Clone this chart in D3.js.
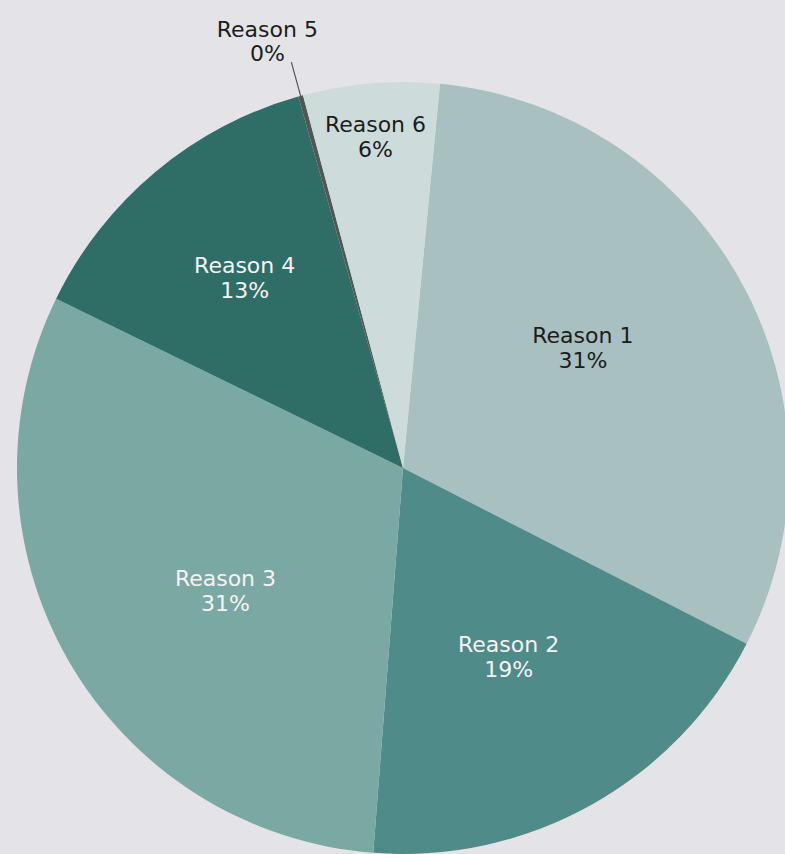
<!DOCTYPE html>
<meta charset="utf-8">
<script src="https://d3js.org/d3.v7.min.js"></script>
<html>
  <head>
    <style>
    body { margin: 0; background-color: #e4e3e7; }
    .lbl { font-family: "DejaVu Sans", sans-serif; font-size: 22px; }
    </style>
  </head>
  <body>
    <div id="my_dataviz"></div>
  </body>
</html>

<script>

// data (labels are the rounded shares)
var reasons = ["Reason 1", "Reason 2", "Reason 3", "Reason 4", "Reason 5", "Reason 6"];
var shares  = [31, 18.7, 31, 13.4, 0.2, 5.7];

// colours per slice and label text colour
var sliceColors = ["#a9c0c0", "#4f8b88", "#7aa8a3", "#2f6e67", "#555555", "#cddcdb"];
var textColors  = ["#1c1c1c", "#f4f4f4", "#f4f4f4", "#f4f4f4", "#1c1c1c", "#1c1c1c"];

var width = 785, height = 854;
var cx = 403, cy = 468, radius = 386;

var svg = d3.select("#my_dataviz")
  .append("svg")
    .attr("width", width)
    .attr("height", height)
  .append("g")
    .attr("transform", "translate(" + cx + "," + cy + ")");

var data = reasons.map(function(d, i) { return {name: d, value: shares[i], idx: i}; });

var start = 5.5 * Math.PI / 180;
var pie = d3.pie()
  .sort(null)
  .value(function(d) { return d.value; })
  .startAngle(start)
  .endAngle(start + 2 * Math.PI);

var arcs = pie(data);

var arc = d3.arc().innerRadius(0).outerRadius(radius);

// slices
svg.selectAll("path.slice")
  .data(arcs)
  .enter()
  .append("path")
    .attr("class", "slice")
    .attr("d", arc)
    .style("fill", function(d) { return sliceColors[d.data.idx]; });

// where a label sits depends on how wide the slice is
function labelRadius(d) {
  var span = (d.endAngle - d.startAngle) * 180 / Math.PI;
  if (span < 30) return radius * 0.86;
  if (span < 60) return radius * 0.64;
  return radius * 0.56;
}

// wide slices get their label nudged a little back towards the slice start
function labelArc(d) {
  var span = d.endAngle - d.startAngle;
  var shift = span > Math.PI / 2 ? -5 * Math.PI / 180 : 0;
  return {startAngle: d.startAngle + shift, endAngle: d.endAngle + shift};
}

function pct(v) { return Math.round(v) + "%"; }

var inside = arcs.filter(function(d) { return d.data.value >= 2; });
var outside = arcs.filter(function(d) { return d.data.value < 2; });

var lab = svg.selectAll("g.inlab")
  .data(inside)
  .enter()
  .append("g")
    .attr("class", "inlab")
    .attr("transform", function(d) {
      var r = labelRadius(d);
      var a = d3.arc().innerRadius(r).outerRadius(r);
      return "translate(" + a.centroid(labelArc(d)) + ")";
    });

lab.append("text")
  .attr("class", "lbl")
  .attr("text-anchor", "middle")
  .attr("y", -5)
  .style("fill", function(d) { return textColors[d.data.idx]; })
  .text(function(d) { return d.data.name; });

lab.append("text")
  .attr("class", "lbl")
  .attr("text-anchor", "middle")
  .attr("y", 20)
  .style("fill", function(d) { return textColors[d.data.idx]; })
  .text(function(d) { return pct(d.data.value); });

// tiny slice: leader line and label outside the pie
var edge = d3.arc().innerRadius(radius - 8).outerRadius(radius - 8);
var far  = d3.arc().innerRadius(radius + 35).outerRadius(radius + 35);

outside.forEach(function(d) {
  var p0 = edge.centroid(d), p1 = far.centroid(d);
  svg.append("line")
    .attr("x1", p0[0]).attr("y1", p0[1])
    .attr("x2", p1[0]).attr("y2", p1[1])
    .style("stroke", "#555")
    .style("stroke-width", 1.2);
  svg.append("text")
    .attr("class", "lbl")
    .attr("text-anchor", "middle")
    .attr("x", p1[0] - 24)
    .attr("y", p1[1] - 25)
    .style("fill", textColors[d.data.idx])
    .text(d.data.name);
  svg.append("text")
    .attr("class", "lbl")
    .attr("text-anchor", "middle")
    .attr("x", p1[0] - 24)
    .attr("y", p1[1] - 1)
    .style("fill", textColors[d.data.idx])
    .text(pct(d.data.value));
});

</script>
